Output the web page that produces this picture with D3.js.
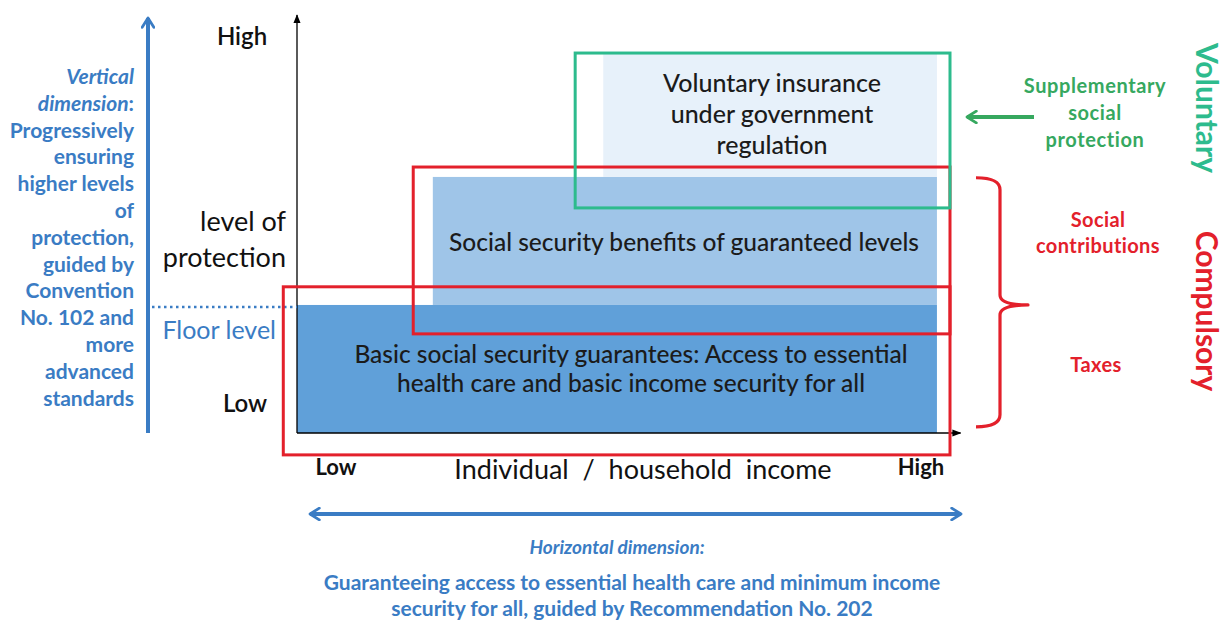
<!DOCTYPE html>
<html>
<head>
<meta charset="utf-8">
<script src="https://cdn.jsdelivr.net/npm/d3@7"></script>
<style>
  html, body { margin: 0; padding: 0; background: #fff; }
  svg { display: block; font-family: "Lato", "DejaVu Sans", sans-serif; }
</style>
</head>
<body>
<svg id="chart" width="1225" height="623"></svg>
<script>
// ---------- data (in income / protection units, 0–100) ----------
const tiers = ["basic", "benefits", "voluntary"];
const tierX0 = [0, 20.8, 46.9];
const tierX1 = [98, 98, 98];
const tierY0 = [0, 31, 62];
const tierY1 = [31, 62, 91.8];
const tierLines = [
  ["Basic social security guarantees: Access to essential", "health care and basic income security for all"],
  ["Social security benefits of guaranteed levels"],
  ["Voluntary insurance", "under government", "regulation"]
];
const tierColors = ["#60a0d9", "#9fc5e8", "#e7f1fa"];

const frames = ["taxes", "contributions", "supplementary"];
const frameX0 = [-2.1, 17.8, 42.6];
const frameX1 = [100, 100, 100];
const frameY0 = [-5.3, 24.0, 54.5];
const frameY1 = [35.4, 64.4, 92.0];
const frameColors = ["#e3202b", "#e3202b", "#2dbb8d"];

const floorLevel = 30.5;
const yTickLabels = ["Low", "High"];
const xTickLabels = ["Low", "High"];
const yTitle = ["level of", "protection"];
const xTitle = "Individual  /  household  income";

const leftNote = ["Vertical", "dimension:", "Progressively", "ensuring", "higher levels", "of",
  "protection,", "guided by", "Convention", "No. 102 and", "more", "advanced", "standards"];
const bottomNoteTitle = "Horizontal dimension:";
const bottomNote = ["Guaranteeing access to essential health care and minimum income",
  "security for all, guided by Recommendation No. 202"];
const supplementaryNote = ["Supplementary", "social", "protection"];
const contributionNote = ["Social", "contributions"];
const taxNote = ["Taxes"];
const sideLabels = ["Voluntary", "Compulsory"];

// ---------- drawing ----------
const svg = d3.select("#chart");
const x = d3.scaleLinear().domain([0, 100]).range([297, 950]);
const y = d3.scaleLinear().domain([0, 100]).range([433, 20]);

const BLUE = "#3a7cc4";
const RED = "#e3202b";
const GREEN = "#36a85f";

const defs = svg.append("defs");
defs.append("marker").attr("id", "tri").attr("viewBox", "0 0 10 10")
  .attr("refX", 9).attr("refY", 5).attr("markerWidth", 9).attr("markerHeight", 9)
  .attr("markerUnits", "userSpaceOnUse").attr("orient", "auto")
  .append("path").attr("d", "M0,1 L10,5 L0,9 Z").attr("fill", "#000");
function chevron(id, color) {
  defs.append("marker").attr("id", id).attr("viewBox", "0 0 12 12")
    .attr("refX", 10).attr("refY", 6).attr("markerWidth", 14).attr("markerHeight", 14)
    .attr("markerUnits", "userSpaceOnUse").attr("orient", "auto-start-reverse")
    .append("path").attr("d", "M2,1 L10,6 L2,11").attr("fill", "none")
    .attr("stroke", color).attr("stroke-width", 2.4).attr("stroke-linecap", "round").attr("stroke-linejoin", "round");
}
chevron("chevB", BLUE);
chevron("chevG", GREEN);

// tiers (filled areas)
svg.append("g").selectAll("rect").data(tiers).join("rect")
  .attr("x", (d, i) => x(tierX0[i]))
  .attr("y", (d, i) => y(tierY1[i]))
  .attr("width", (d, i) => x(tierX1[i]) - x(tierX0[i]))
  .attr("height", (d, i) => y(tierY0[i]) - y(tierY1[i]))
  .attr("fill", (d, i) => tierColors[i]);

// axes
svg.append("line").attr("x1", x(0)).attr("y1", y(0)).attr("x2", x(0)).attr("y2", y(101.2))
  .attr("stroke", "#000").attr("stroke-width", 1.3).attr("marker-end", "url(#tri)");
svg.append("line").attr("x1", x(0)).attr("y1", y(0)).attr("x2", x(101.6)).attr("y2", y(0))
  .attr("stroke", "#000").attr("stroke-width", 1.3).attr("marker-end", "url(#tri)");

// floor level dotted line
svg.append("line").attr("x1", 152).attr("x2", x(0)).attr("y1", y(floorLevel)).attr("y2", y(floorLevel))
  .attr("stroke", BLUE).attr("stroke-width", 2.6).attr("stroke-dasharray", "2.5,3.5");

// frames (outlines)
svg.append("g").selectAll("rect").data(frames).join("rect")
  .attr("x", (d, i) => x(frameX0[i]))
  .attr("y", (d, i) => y(frameY1[i]))
  .attr("width", (d, i) => x(frameX1[i]) - x(frameX0[i]))
  .attr("height", (d, i) => y(frameY0[i]) - y(frameY1[i]))
  .attr("fill", "none")
  .attr("stroke", (d, i) => frameColors[i])
  .attr("stroke-width", 3);

// tier texts
const tierTextPos = [
  { cx: 631, base: 363, lh: 29, fs: 24.5 },
  { cx: 684, base: 251, lh: 29, fs: 24.5 },
  { cx: 772, base: 92, lh: 31, fs: 25 }
];
tiers.forEach((t, i) => {
  const p = tierTextPos[i];
  svg.append("g").selectAll("text").data(tierLines[i]).join("text")
    .attr("x", p.cx).attr("y", (d, j) => p.base + j * p.lh)
    .attr("text-anchor", "middle").attr("font-size", p.fs).attr("fill", "#1b1b1b")
    .attr("font-weight", 500)
    .text(d => d);
});

// axis tick labels
svg.append("text").attr("x", 242).attr("y", 45).attr("text-anchor", "middle")
  .attr("font-size", 24).attr("font-weight", 600).attr("fill", "#111").text(yTickLabels[1]);
svg.append("text").attr("x", 245).attr("y", 412).attr("text-anchor", "middle")
  .attr("font-size", 24).attr("font-weight", 600).attr("fill", "#111").text(yTickLabels[0]);
svg.append("g").selectAll("text").data(yTitle).join("text")
  .attr("x", 286).attr("y", (d, j) => 231 + j * 36).attr("text-anchor", "end")
  .attr("font-size", 27).attr("fill", "#111").text(d => d);
svg.append("text").attr("x", 276).attr("y", 339).attr("text-anchor", "end")
  .attr("font-size", 25).attr("fill", BLUE).text("Floor level");

svg.append("text").attr("x", 336).attr("y", 475).attr("text-anchor", "middle")
  .attr("font-size", 22).attr("font-weight", 700).attr("fill", "#111").text(xTickLabels[0]);
svg.append("text").attr("x", 921).attr("y", 475).attr("text-anchor", "middle")
  .attr("font-size", 22).attr("font-weight", 700).attr("fill", "#111").text(xTickLabels[1]);
svg.append("text").attr("x", 643).attr("y", 479).attr("text-anchor", "middle")
  .attr("font-size", 27).attr("fill", "#111").attr("xml:space", "preserve")
  .style("white-space", "pre").text(xTitle);

// left vertical arrow + note
svg.append("line").attr("x1", 148).attr("x2", 148).attr("y1", 433).attr("y2", 18)
  .attr("stroke", BLUE).attr("stroke-width", 4).attr("marker-end", "url(#chevB)");
const ln = svg.append("g").selectAll("text").data(leftNote).join("text")
  .attr("x", 134).attr("y", (d, j) => 84 + j * 26.8).attr("text-anchor", "end")
  .attr("font-size", 21).attr("font-weight", 700).attr("fill", BLUE);
ln.each(function (d, j) {
  const t = d3.select(this);
  if (j === 0) t.append("tspan").attr("font-style", "italic").text(d);
  else if (j === 1) {
    t.append("tspan").attr("font-style", "italic").text("dimension");
    t.append("tspan").text(":");
  } else t.text(d);
});

// bottom double arrow + note
svg.append("line").attr("x1", 310).attr("x2", 961).attr("y1", 514).attr("y2", 514)
  .attr("stroke", BLUE).attr("stroke-width", 4)
  .attr("marker-start", "url(#chevB)").attr("marker-end", "url(#chevB)");
svg.append("text").attr("x", 617).attr("y", 554).attr("text-anchor", "middle")
  .attr("font-size", 19).attr("font-weight", 700).attr("font-style", "italic").attr("fill", BLUE)
  .text(bottomNoteTitle);
svg.append("g").selectAll("text").data(bottomNote).join("text")
  .attr("x", 632).attr("y", (d, j) => 590 + j * 26).attr("text-anchor", "middle")
  .attr("font-size", 21).attr("font-weight", 700).attr("fill", BLUE).text(d => d);

// right side: supplementary arrow + notes
svg.append("line").attr("x1", 1034).attr("x2", 967).attr("y1", 117).attr("y2", 117)
  .attr("stroke", GREEN).attr("stroke-width", 4).attr("marker-end", "url(#chevG)");
svg.append("g").selectAll("text").data(supplementaryNote).join("text")
  .attr("x", 1095).attr("y", (d, j) => 93 + j * 27).attr("text-anchor", "middle")
  .attr("font-size", 20).attr("font-weight", 700).attr("letter-spacing", 0.6)
  .attr("fill", GREEN).text(d => d);
svg.append("g").selectAll("text").data(contributionNote).join("text")
  .attr("x", 1098).attr("y", (d, j) => 227 + j * 26).attr("text-anchor", "middle")
  .attr("font-size", 20).attr("font-weight", 700).attr("letter-spacing", 0.4)
  .attr("fill", RED).text(d => d);
svg.append("g").selectAll("text").data(taxNote).join("text")
  .attr("x", 1096).attr("y", 372).attr("text-anchor", "middle")
  .attr("font-size", 20).attr("font-weight", 700).attr("letter-spacing", 0.4)
  .attr("fill", RED).text(d => d);

// brace
const bTop = y(61.8), bBot = y(1.5), bMid = y(31), bx = 1000;
svg.append("path")
  .attr("d", `M${bx - 24},${bTop} Q${bx},${bTop} ${bx},${bTop + 12} L${bx},${bMid - 10} Q${bx},${bMid} ${bx + 28},${bMid} Q${bx},${bMid} ${bx},${bMid + 10} L${bx},${bBot - 12} Q${bx},${bBot} ${bx - 24},${bBot}`)
  .attr("fill", "none").attr("stroke", RED).attr("stroke-width", 3.2).attr("stroke-linejoin", "round");

// rotated side labels
svg.append("text").attr("transform", `translate(1196,108) rotate(90)`).attr("text-anchor", "middle")
  .attr("font-size", 30).attr("font-weight", 700).attr("fill", "#2dbb8d").text(sideLabels[0]);
svg.append("text").attr("transform", `translate(1196,311) rotate(90)`).attr("text-anchor", "middle")
  .attr("font-size", 30).attr("font-weight", 700).attr("fill", RED).text(sideLabels[1]);
</script>
</body>
</html>
